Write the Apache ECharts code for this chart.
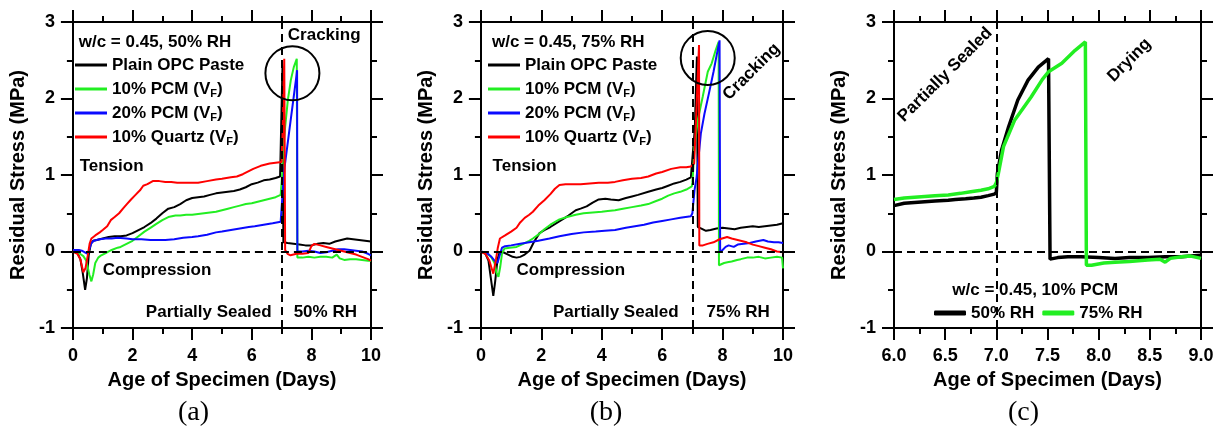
<!DOCTYPE html>
<html><head><meta charset="utf-8">
<script src="https://cdn.jsdelivr.net/npm/echarts@6/dist/echarts.min.js"></script>
<style>html,body{margin:0;padding:0;background:#fff;overflow:hidden}#wrap{position:relative;width:1225px;height:430px}.p{position:absolute;top:0;height:430px}</style>
</head><body><div id="wrap"><div class="p" id="pa" style="left:0;width:408px"></div><div class="p" id="pb" style="left:408px;width:407px"></div><div class="p" id="pc" style="left:815px;width:410px"></div></div>
<script>
// ---------- DATA ----------
const seriesNamesAB = ['Plain OPC Paste', '10% PCM (VF)', '20% PCM (VF)', '10% Quartz (VF)'];
const seriesNamesC = ['50% RH', '75% RH'];
const panelLabels = ['(a)', '(b)', '(c)'];
const xTicksAB = [0, 2, 4, 6, 8, 10];
const xTicksC = [6.0, 6.5, 7.0, 7.5, 8.0, 8.5, 9.0];
const yTicks = [-1, 0, 1, 2, 3];

const a_plain = [[0,0],[0.15,-0.02],[0.25,-0.1],[0.33,-0.28],[0.41,-0.5],[0.47,-0.35],[0.53,-0.05],[0.6,0.1],[0.68,0.14],[0.8,0.15],[1.0,0.17],[1.2,0.19],[1.4,0.2],[1.6,0.2],[1.8,0.21],[2.0,0.24],[2.2,0.28],[2.4,0.32],[2.6,0.37],[2.8,0.43],[3.0,0.5],[3.2,0.56],[3.4,0.58],[3.6,0.62],[3.8,0.67],[4.0,0.7],[4.2,0.71],[4.4,0.72],[4.6,0.74],[4.8,0.76],[5.0,0.77],[5.2,0.78],[5.4,0.79],[5.6,0.81],[5.8,0.84],[6.0,0.88],[6.2,0.9],[6.4,0.93],[6.6,0.94],[6.8,0.96],[6.95,0.98],[7.0,0.97],[7.03,2.42],[7.06,0.12],[7.2,0.11],[7.4,0.1],[7.6,0.09],[7.8,0.08],[8.0,0.08],[8.2,0.1],[8.4,0.11],[8.6,0.1],[8.8,0.13],[9.0,0.15],[9.2,0.17],[9.4,0.16],[9.6,0.15],[9.8,0.14],[10,0.13]];
const a_pcm10 = [[0,0],[0.2,-0.02],[0.35,-0.06],[0.45,-0.12],[0.55,-0.3],[0.62,-0.39],[0.68,-0.3],[0.75,-0.15],[0.85,-0.08],[0.95,-0.05],[1.1,-0.02],[1.3,0.02],[1.5,0.05],[1.6,0.06],[1.8,0.1],[2.0,0.14],[2.2,0.2],[2.4,0.26],[2.6,0.31],[2.8,0.36],[3.0,0.41],[3.2,0.45],[3.44,0.47],[3.6,0.47],[3.8,0.48],[4.0,0.48],[4.2,0.49],[4.4,0.5],[4.6,0.51],[4.8,0.52],[5.0,0.54],[5.2,0.56],[5.4,0.58],[5.6,0.6],[5.8,0.62],[6.0,0.63],[6.2,0.65],[6.4,0.67],[6.6,0.69],[6.8,0.71],[6.97,0.74],[7.0,0.76],[7.02,1.0],[7.05,1.3],[7.12,1.63],[7.21,1.98],[7.31,2.24],[7.41,2.41],[7.51,2.52],[7.52,2.53],[7.53,-0.08],[7.7,-0.08],[7.9,-0.07],[8.1,-0.08],[8.3,-0.07],[8.5,-0.07],[8.7,-0.08],[8.85,-0.04],[8.95,-0.09],[9.1,-0.11],[9.3,-0.1],[9.5,-0.1],[9.7,-0.11],[9.9,-0.12],[10,-0.12]];
const a_pcm20 = [[0,0.02],[0.2,0.02],[0.3,0.01],[0.4,-0.01],[0.5,-0.03],[0.56,-0.02],[0.62,0.11],[0.7,0.14],[0.9,0.16],[1.1,0.17],[1.3,0.17],[1.5,0.18],[1.8,0.17],[2.0,0.16],[2.3,0.16],[2.6,0.15],[2.9,0.15],[3.1,0.15],[3.4,0.16],[3.7,0.18],[4.0,0.19],[4.2,0.2],[4.5,0.22],[4.8,0.25],[5.0,0.26],[5.3,0.28],[5.6,0.3],[5.9,0.32],[6.1,0.33],[6.4,0.35],[6.7,0.37],[6.97,0.39],[7.0,0.4],[7.05,0.85],[7.1,1.1],[7.2,1.4],[7.3,1.7],[7.4,2.0],[7.5,2.3],[7.52,2.37],[7.53,0.0],[7.7,0.0],[7.9,0.01],[8.1,0.0],[8.3,-0.02],[8.5,-0.01],[8.7,0.01],[8.9,0.03],[9.1,0.03],[9.3,0.02],[9.5,0.01],[9.7,0.0],[9.9,-0.03],[10,-0.05]];
const a_quartz = [[0,0],[0.15,-0.03],[0.25,-0.1],[0.35,-0.27],[0.42,-0.22],[0.5,-0.05],[0.56,0.1],[0.62,0.17],[0.75,0.21],[0.9,0.25],[1.0,0.28],[1.15,0.33],[1.27,0.41],[1.4,0.45],[1.55,0.5],[1.7,0.57],[1.81,0.62],[1.95,0.68],[2.1,0.74],[2.25,0.8],[2.36,0.86],[2.5,0.88],[2.68,0.92],[2.9,0.92],[3.1,0.91],[3.3,0.91],[3.5,0.9],[3.8,0.9],[4.0,0.9],[4.2,0.9],[4.5,0.92],[4.8,0.94],[5.0,0.95],[5.3,0.97],[5.5,0.98],[5.7,1.01],[5.9,1.05],[6.05,1.08],[6.3,1.12],[6.6,1.15],[6.8,1.16],[7.0,1.17],[7.04,1.6],[7.09,2.52],[7.12,0.02],[7.2,-0.03],[7.3,-0.05],[7.5,-0.03],[7.7,-0.03],[7.9,-0.02],[8.0,0.07],[8.1,0.1],[8.3,0.08],[8.5,0.06],[8.7,0.04],[8.9,0.02],[9.1,0.0],[9.3,-0.02],[9.5,-0.04],[9.7,-0.07],[9.9,-0.1],[10,-0.12]];

const b_plain = [[0,0],[0.15,-0.03],[0.25,-0.12],[0.33,-0.35],[0.41,-0.58],[0.47,-0.4],[0.55,-0.1],[0.62,-0.01],[0.74,-0.01],[0.9,-0.04],[1.05,-0.07],[1.18,-0.08],[1.3,-0.07],[1.45,-0.04],[1.61,0.01],[1.75,0.12],[1.94,0.24],[2.1,0.28],[2.3,0.32],[2.5,0.37],[2.7,0.42],[2.9,0.47],[3.14,0.54],[3.3,0.56],[3.5,0.59],[3.7,0.64],[3.9,0.68],[4.12,0.69],[4.3,0.68],[4.56,0.67],[4.8,0.7],[5.0,0.72],[5.2,0.74],[5.54,0.78],[5.8,0.81],[6.0,0.83],[6.2,0.86],[6.4,0.89],[6.6,0.91],[6.8,0.94],[6.95,0.97],[7.0,0.96],[7.08,1.6],[7.15,2.55],[7.18,0.32],[7.3,0.3],[7.45,0.27],[7.6,0.28],[7.8,0.3],[8.0,0.31],[8.2,0.3],[8.4,0.29],[8.6,0.31],[8.8,0.32],[9.0,0.33],[9.2,0.32],[9.4,0.33],[9.6,0.34],[9.8,0.35],[10,0.37]];
const b_pcm10 = [[0,0],[0.2,-0.02],[0.35,-0.08],[0.45,-0.15],[0.52,-0.28],[0.58,-0.33],[0.64,-0.2],[0.7,-0.02],[0.78,0.04],[0.95,0.05],[1.18,0.06],[1.4,0.1],[1.6,0.14],[1.72,0.17],[1.9,0.22],[2.1,0.29],[2.3,0.35],[2.6,0.42],[2.85,0.45],[3.14,0.48],[3.4,0.5],[3.7,0.51],[4.0,0.52],[4.2,0.53],[4.44,0.54],[4.7,0.56],[5.0,0.58],[5.3,0.6],[5.54,0.62],[5.8,0.66],[6.0,0.69],[6.2,0.73],[6.4,0.76],[6.6,0.78],[6.8,0.81],[6.98,0.85],[7.0,0.9],[7.02,1.02],[7.07,1.37],[7.18,1.72],[7.34,2.02],[7.51,2.35],[7.64,2.46],[7.77,2.63],[7.87,2.74],[7.88,-0.18],[7.93,-0.17],[8.05,-0.15],[8.16,-0.14],[8.3,-0.13],[8.48,-0.11],[8.6,-0.1],[8.81,-0.08],[9.0,-0.08],[9.2,-0.07],[9.4,-0.09],[9.6,-0.08],[9.8,-0.07],[9.97,-0.08],[10,-0.22]];
const b_pcm20 = [[0,0],[0.2,-0.02],[0.35,-0.07],[0.45,-0.12],[0.55,-0.15],[0.62,-0.05],[0.7,0.05],[0.8,0.07],[1.0,0.08],[1.3,0.1],[1.6,0.12],[1.9,0.14],[2.27,0.17],[2.6,0.2],[3.0,0.23],[3.4,0.25],[3.8,0.26],[4.1,0.27],[4.44,0.28],[4.8,0.31],[5.1,0.33],[5.4,0.35],[5.7,0.38],[6.0,0.4],[6.3,0.42],[6.6,0.44],[6.95,0.46],[7.0,0.5],[7.07,0.8],[7.14,0.97],[7.28,1.54],[7.4,1.8],[7.55,2.07],[7.7,2.35],[7.82,2.6],[7.9,2.76],[7.92,0.0],[8.0,0.02],[8.1,0.06],[8.2,0.08],[8.37,0.06],[8.5,0.09],[8.7,0.1],[8.9,0.11],[9.1,0.13],[9.35,0.15],[9.5,0.13],[9.7,0.12],[9.85,0.12],[10,0.11]];
const b_quartz = [[0,0],[0.15,-0.03],[0.28,-0.12],[0.41,-0.29],[0.5,-0.1],[0.56,0.05],[0.63,0.17],[0.8,0.21],[1.0,0.26],[1.18,0.31],[1.3,0.38],[1.45,0.44],[1.6,0.48],[1.72,0.52],[1.9,0.6],[2.1,0.67],[2.3,0.75],[2.45,0.82],[2.6,0.87],[2.8,0.88],[3.0,0.88],[3.3,0.88],[3.6,0.89],[3.9,0.9],[4.2,0.9],[4.44,0.91],[4.7,0.93],[5.0,0.95],[5.3,0.96],[5.54,0.98],[5.8,1.02],[6.0,1.04],[6.3,1.08],[6.6,1.1],[6.8,1.1],[6.95,1.11],[7.06,1.15],[7.14,1.9],[7.22,2.7],[7.23,0.08],[7.35,0.08],[7.5,0.1],[7.7,0.12],[7.9,0.16],[8.15,0.19],[8.3,0.17],[8.5,0.15],[8.8,0.12],[9.0,0.09],[9.2,0.07],[9.4,0.05],[9.6,0.03],[9.8,0.0],[10,-0.01]];

const c_rh50 = [[6.0,0.6],[6.1,0.63],[6.2,0.64],[6.3,0.65],[6.4,0.66],[6.53,0.67],[6.6,0.68],[6.7,0.69],[6.78,0.7],[6.85,0.71],[6.92,0.73],[6.98,0.75],[7.0,0.77],[7.01,1.02],[7.05,1.32],[7.12,1.63],[7.21,1.98],[7.31,2.24],[7.41,2.41],[7.51,2.52],[7.52,2.54],[7.525,-0.1],[7.6,-0.08],[7.7,-0.07],[7.83,-0.07],[8.0,-0.08],[8.16,-0.09],[8.3,-0.08],[8.48,-0.08],[8.65,-0.07],[8.81,-0.07],[8.9,-0.06],[9.0,-0.05]];
const c_rh75 = [[6.0,0.68],[6.1,0.7],[6.2,0.71],[6.3,0.72],[6.4,0.73],[6.53,0.74],[6.65,0.76],[6.75,0.78],[6.85,0.8],[6.92,0.82],[6.98,0.85],[7.0,0.9],[7.02,1.02],[7.07,1.37],[7.18,1.72],[7.34,2.02],[7.45,2.25],[7.51,2.35],[7.64,2.46],[7.77,2.63],[7.87,2.74],[7.88,-0.18],[7.93,-0.18],[8.05,-0.15],[8.16,-0.14],[8.3,-0.13],[8.48,-0.11],[8.6,-0.1],[8.65,-0.14],[8.7,-0.09],[8.81,-0.07],[8.9,-0.06],[9.0,-0.09]];

const colorsAB = ['#000000', '#22ee22', '#0a0aff', '#ff0000'];
const colorsC = ['#000000', '#22ee22'];

// ---------- SHARED STYLE ----------
const FONT = '"Liberation Sans", Arial, sans-serif';
const labelStyle = {color: '#000', fontSize: 18, fontWeight: 'bold', fontFamily: FONT};
const nameStyle = {color: '#000', fontSize: 20, fontWeight: 'bold', fontFamily: FONT};

function axisCommon(min, max, interval) {
  return {
    type: 'value', min: min, max: max, interval: interval,
    axisLine: {show: true, onZero: false, lineStyle: {color: '#000', width: 2}},
    axisTick: {show: true, inside: false, length: 12, lineStyle: {color: '#000', width: 2}},
    minorTick: {show: true, splitNumber: 2, length: 6, lineStyle: {color: '#000', width: 2}},
    splitLine: {show: false}, minorSplitLine: {show: false}
  };
}
function legendFmt(name) {
  if (name.slice(-4) === '(VF)') return '{n|' + name.slice(0, -2) + '}{sub|F}{n|)}';
  return '{n|' + name + '}';
}
const legendText = {
  color: '#000', fontSize: 17, fontWeight: 'bold', fontFamily: FONT, lineHeight: 20,
  rich: {
    n: {color: '#000', fontSize: 17, fontWeight: 'bold', fontFamily: FONT, lineHeight: 20},
    sub: {color: '#000', fontSize: 11, fontWeight: 'bold', fontFamily: FONT, lineHeight: 11, verticalAlign: 'bottom'}
  }
};

// ---------- PANELS (one chart instance each) ----------
const panels = [
  {id: 'pa', grid: {left: 64, top: 22, width: 307, height: 306}, xTicks: xTicksAB, dec: 0,
   data: [a_plain, a_pcm10, a_pcm20, a_quartz], names: seriesNamesAB, colors: colorsAB, lw: 2,
   legend: {orient: 'vertical', left: 70, top: 50, itemWidth: 32, itemHeight: 3, icon: 'rect', itemGap: 4},
   notes: [[0.48, 2.74, 'w/c = 0.45, 50% RH', 'left', 0], [7.29, 2.82, 'Cracking', 'left', 0], [0.51, 1.12, 'Tension', 'left', 0],
           [1.26, -0.24, 'Compression', 'left', 0], [6.76, -0.80, 'Partially Sealed', 'right', 0], [7.48, -0.80, '50% RH', 'left', 0]],
   circles: [[7.44, 2.33]], label: panelLabels[0]},
  {id: 'pb', grid: {left: 69, top: 22, width: 306, height: 306}, xTicks: xTicksAB, dec: 0,
   data: [b_plain, b_pcm10, b_pcm20, b_quartz], names: seriesNamesAB, colors: colorsAB, lw: 2,
   legend: {orient: 'vertical', left: 75, top: 50, itemWidth: 32, itemHeight: 3, icon: 'rect', itemGap: 4},
   notes: [[0.49, 2.74, 'w/c = 0.45, 75% RH', 'left', 0], [8.97, 2.35, 'Cracking', 'center', 45], [0.51, 1.12, 'Tension', 'left', 0],
           [1.29, -0.24, 'Compression', 'left', 0], [6.59, -0.80, 'Partially Sealed', 'right', 0], [7.50, -0.80, '75% RH', 'left', 0]],
   circles: [[7.54, 2.53]], label: panelLabels[1]},
  {id: 'pc', grid: {left: 79, top: 22, width: 307, height: 306}, xTicks: xTicksC, dec: 1,
   data: [c_rh50, c_rh75], names: seriesNamesC, colors: colorsC, lw: 3.5,
   legend: {orient: 'horizontal', left: 114, top: 298, itemWidth: 32, itemHeight: 5, icon: 'roundRect', itemGap: 8},
   notes: [[6.50, 2.31, 'Partially Sealed', 'center', 45], [8.30, 2.50, 'Drying', 'center', 45], [7.38, -0.51, 'w/c = 0.45, 10% PCM', 'center', 0]],
   circles: [], label: panelLabels[2]}
];

panels.forEach(function (P) {
  const chart = echarts.init(document.getElementById(P.id), null, {renderer: 'canvas'});
  const tk = P.xTicks, x0 = tk[0], x1 = tk[tk.length - 1], iv = tk[1] - tk[0];
  const y0 = yTicks[0], y1 = yTicks[yTicks.length - 1];
  const gr = P.grid;
  function toPx(x, y) {
    return [gr.left + (x - x0) / (x1 - x0) * gr.width, gr.top + (y1 - y) / (y1 - y0) * gr.height];
  }
  const series = P.data.map(function (d, i) {
    const s = {name: P.names[i], type: 'line', data: d, xAxisIndex: 0, yAxisIndex: 0,
      showSymbol: false, animation: false,
      itemStyle: {color: P.colors[i]}, lineStyle: {color: P.colors[i], width: P.lw}};
    if (i === 0) s.markLine = {silent: true, symbol: ['none', 'none'], label: {show: false}, animation: false,
      lineStyle: {color: '#000', width: 2, type: [8, 5]}, data: [{yAxis: 0}, {xAxis: 7}]};
    return s;
  });
  const graphics = [];
  P.notes.forEach(function (a) {
    const p = toPx(a[0], a[1]);
    graphics.push({type: 'text', x: p[0], y: p[1], rotation: a[4] * Math.PI / 180, silent: true, z: 100,
      style: {text: a[2], fill: '#000', fontSize: 17, fontWeight: 'bold', fontFamily: FONT, align: a[3], verticalAlign: 'middle'}});
  });
  P.circles.forEach(function (c) {
    const p = toPx(c[0], c[1]);
    graphics.push({type: 'circle', shape: {cx: p[0], cy: p[1], r: 27}, silent: true, z: 100,
      style: {fill: 'none', stroke: '#000', lineWidth: 2}});
  });
  graphics.push({type: 'text', x: gr.left + gr.width / 2 - 24, y: 413, silent: true,
    style: {text: P.label, fill: '#000', fontSize: 28, fontFamily: '"Liberation Serif", "Times New Roman", serif', align: 'center', verticalAlign: 'middle'}});

  chart.setOption({
    animation: false,
    backgroundColor: '#fff',
    grid: gr,
    xAxis: [
      Object.assign(axisCommon(x0, x1, iv), {position: 'bottom', name: 'Age of Specimen (Days)', nameLocation: 'middle', nameGap: 42,
        nameTextStyle: nameStyle, axisLabel: Object.assign({margin: 19, formatter: function (v) { return Number(v).toFixed(P.dec); }}, labelStyle)}),
      Object.assign(axisCommon(x0, x1, iv), {position: 'top', axisLabel: {show: false}})
    ],
    yAxis: [
      Object.assign(axisCommon(y0, y1, 1), {position: 'left', name: 'Residual Stress (MPa)', nameLocation: 'middle', nameGap: 38,
        nameTextStyle: nameStyle, axisLabel: Object.assign({margin: 18}, labelStyle)}),
      Object.assign(axisCommon(y0, y1, 1), {position: 'right', axisLabel: {show: false}})
    ],
    legend: Object.assign({data: P.names, textStyle: legendText, formatter: legendFmt, selectedMode: false}, P.legend),
    graphic: graphics,
    series: series
  });
});
</script>
</body></html>
